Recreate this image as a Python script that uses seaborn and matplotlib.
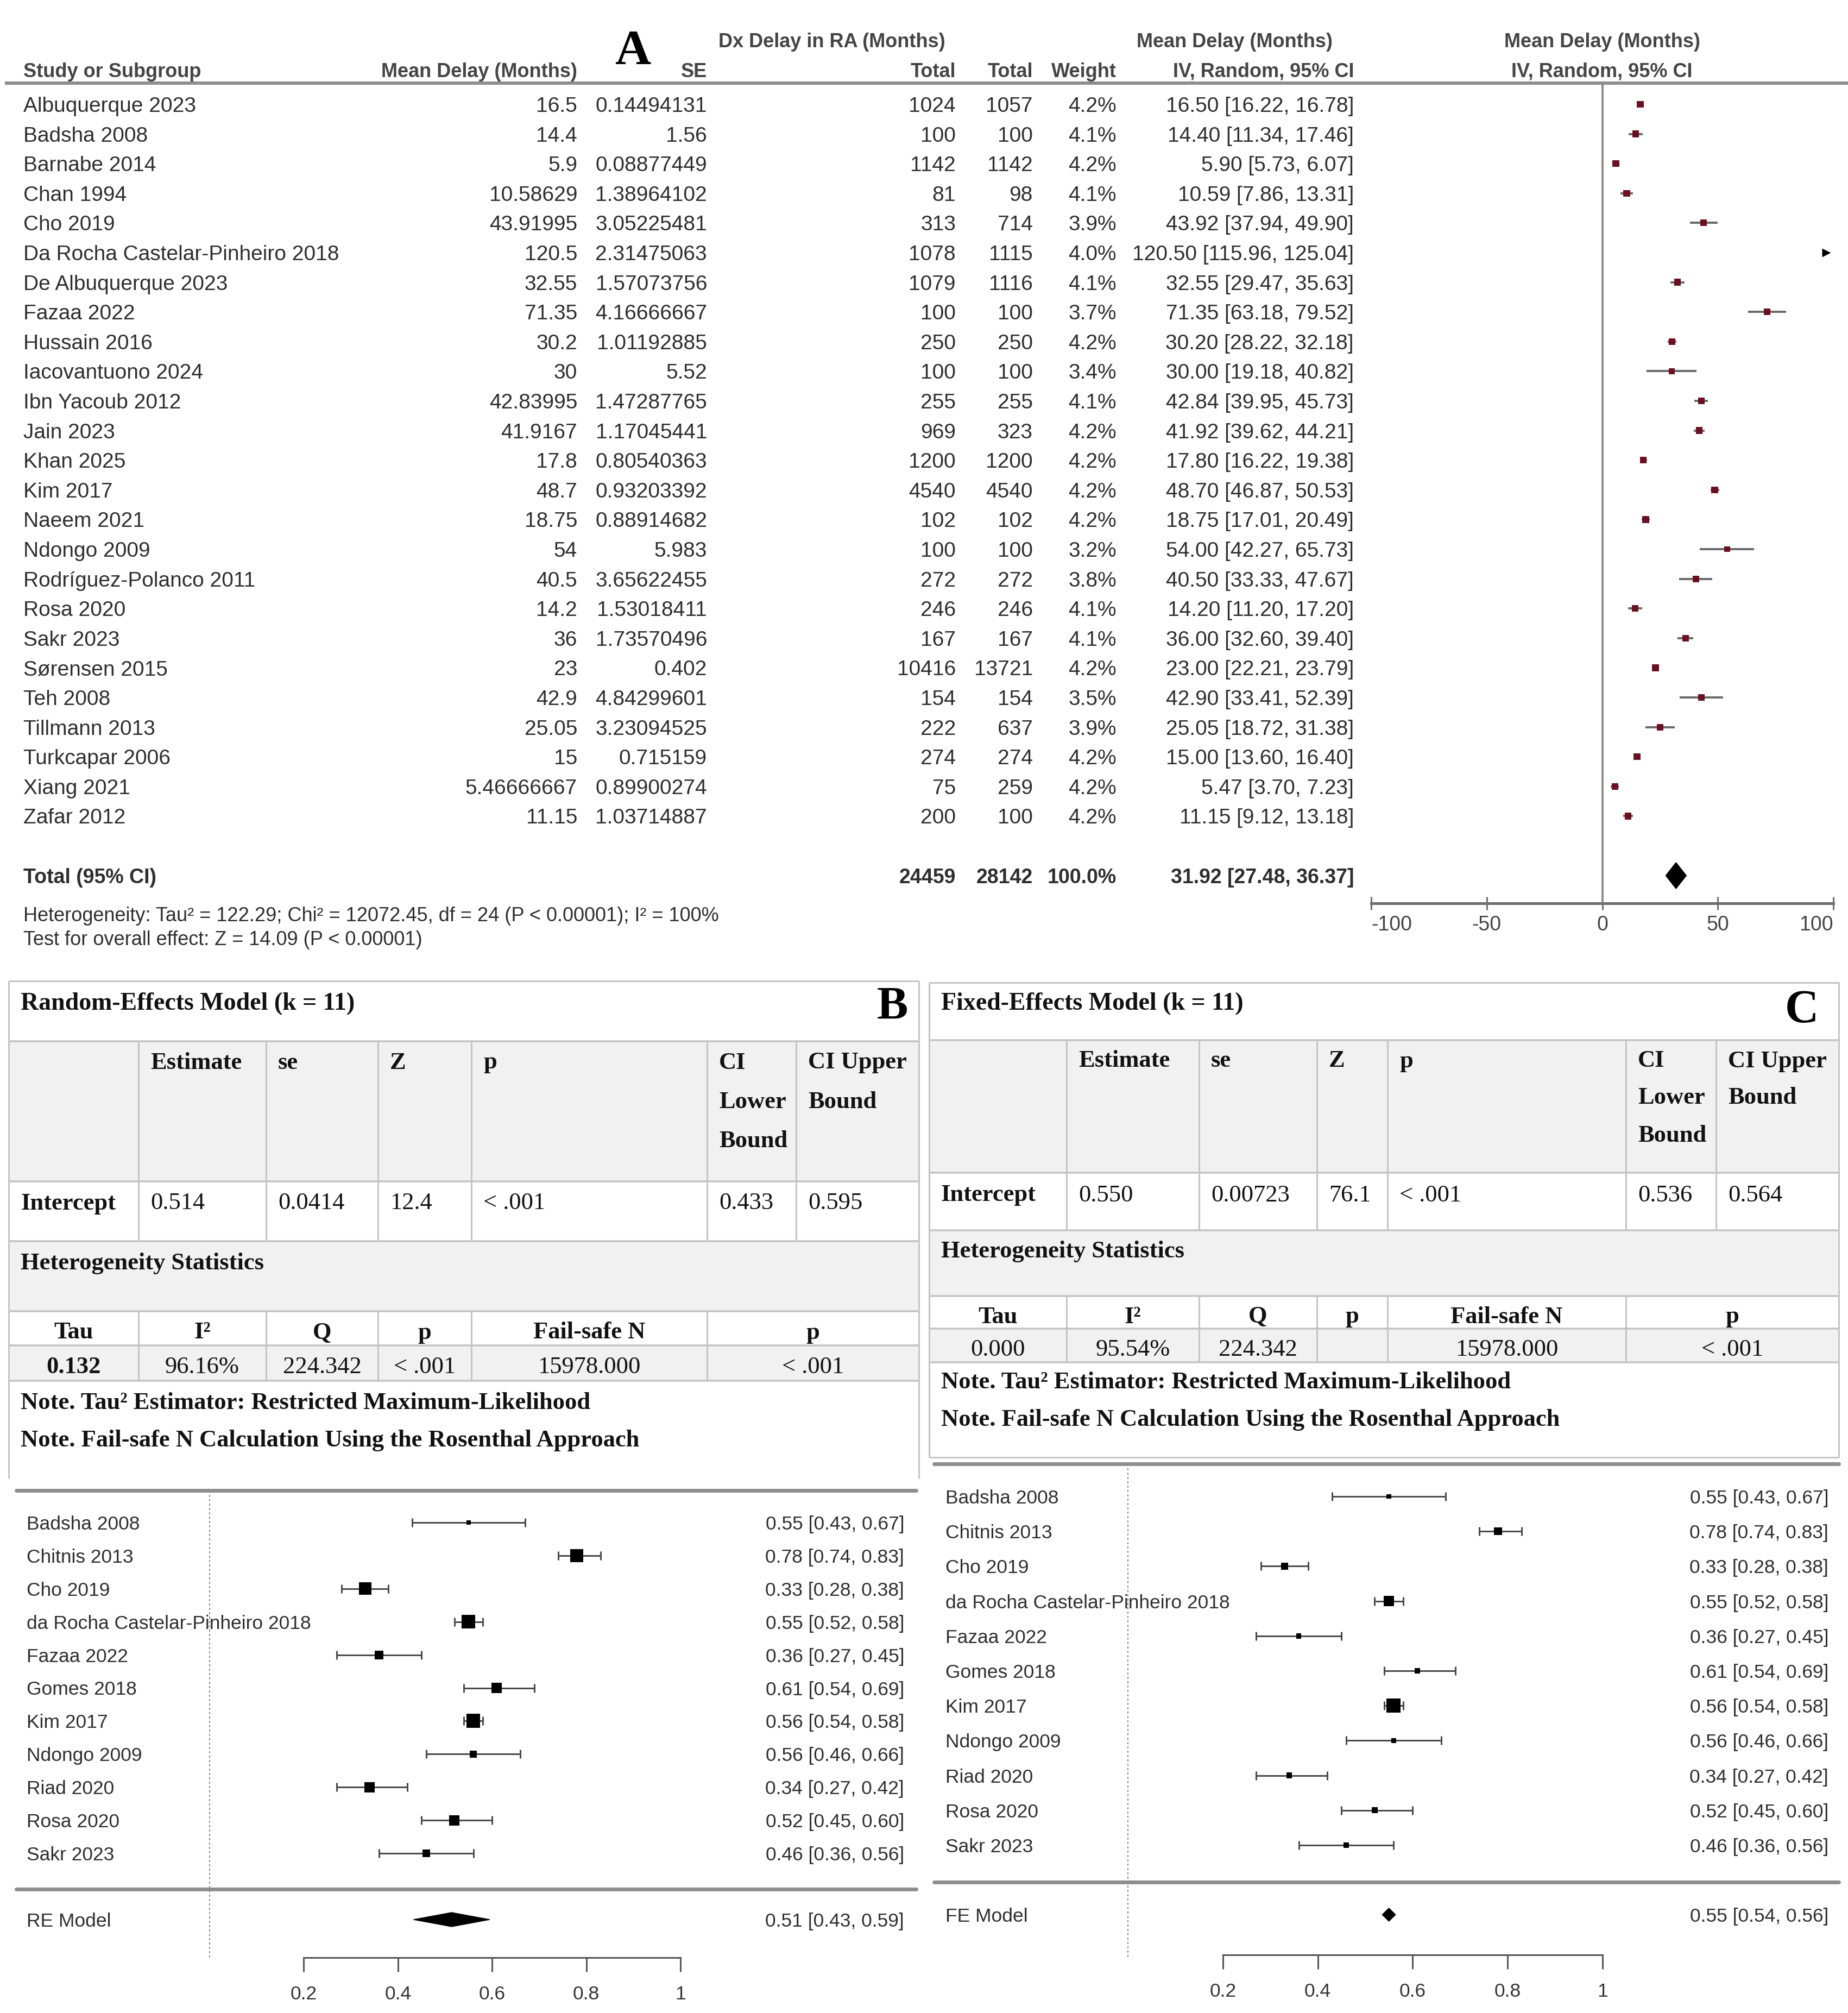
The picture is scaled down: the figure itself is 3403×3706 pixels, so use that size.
import numpy as np
import pandas as pd
import matplotlib
matplotlib.use("Agg")
import matplotlib.pyplot as plt
import matplotlib.transforms as mtrans
from matplotlib.patches import Rectangle, Polygon
import seaborn as sns

# ---------------------------------------------------------------- data: panel A
a_studies = ["Albuquerque 2023", "Badsha 2008", "Barnabe 2014", "Chan 1994", "Cho 2019",
             "Da Rocha Castelar-Pinheiro 2018", "De Albuquerque 2023", "Fazaa 2022",
             "Hussain 2016", "Iacovantuono 2024", "Ibn Yacoub 2012", "Jain 2023", "Khan 2025",
             "Kim 2017", "Naeem 2021", "Ndongo 2009", "Rodríguez-Polanco 2011", "Rosa 2020",
             "Sakr 2023", "Sørensen 2015", "Teh 2008", "Tillmann 2013", "Turkcapar 2006",
             "Xiang 2021", "Zafar 2012"]
a_mean = [16.5, 14.4, 5.9, 10.58629, 43.91995, 120.5, 32.55, 71.35, 30.2, 30, 42.83995,
          41.9167, 17.8, 48.7, 18.75, 54, 40.5, 14.2, 36, 23, 42.9, 25.05, 15, 5.46666667, 11.15]
a_se = [0.14494131, 1.56, 0.08877449, 1.38964102, 3.05225481, 2.31475063, 1.57073756,
        4.16666667, 1.01192885, 5.52, 1.47287765, 1.17045441, 0.80540363, 0.93203392,
        0.88914682, 5.983, 3.65622455, 1.53018411, 1.73570496, 0.402, 4.84299601,
        3.23094525, 0.715159, 0.89900274, 1.03714887]
a_total1 = [1024, 100, 1142, 81, 313, 1078, 1079, 100, 250, 100, 255, 969, 1200, 4540, 102,
            100, 272, 246, 167, 10416, 154, 222, 274, 75, 200]
a_total2 = [1057, 100, 1142, 98, 714, 1115, 1116, 100, 250, 100, 255, 323, 1200, 4540, 102,
            100, 272, 246, 167, 13721, 154, 637, 274, 259, 100]
a_weight = [4.2, 4.1, 4.2, 4.1, 3.9, 4.0, 4.1, 3.7, 4.2, 3.4, 4.1, 4.2, 4.2, 4.2, 4.2, 3.2,
            3.8, 4.1, 4.1, 4.2, 3.5, 3.9, 4.2, 4.2, 4.2]
a_md = [16.50, 14.40, 5.90, 10.59, 43.92, 120.50, 32.55, 71.35, 30.20, 30.00, 42.84, 41.92,
        17.80, 48.70, 18.75, 54.00, 40.50, 14.20, 36.00, 23.00, 42.90, 25.05, 15.00, 5.47, 11.15]
a_lo = [16.22, 11.34, 5.73, 7.86, 37.94, 115.96, 29.47, 63.18, 28.22, 19.18, 39.95, 39.62,
        16.22, 46.87, 17.01, 42.27, 33.33, 11.20, 32.60, 22.21, 33.41, 18.72, 13.60, 3.70, 9.12]
a_hi = [16.78, 17.46, 6.07, 13.31, 49.90, 125.04, 35.63, 79.52, 32.18, 40.82, 45.73, 44.21,
        19.38, 50.53, 20.49, 65.73, 47.67, 17.20, 39.40, 23.79, 52.39, 31.38, 16.40, 7.23, 13.18]
a_tot_n1, a_tot_n2, a_tot_w = 24459, 28142, 100.0
a_tot_md, a_tot_lo, a_tot_hi = 31.92, 27.48, 36.37
a_xticks = [-100, -50, 0, 50, 100]
a_het = "Heterogeneity: Tau² = 122.29; Chi² = 12072.45, df = 24 (P < 0.00001); I² = 100%"
a_test = "Test for overall effect: Z = 14.09 (P < 0.00001)"

# ---------------------------------------------------------------- data: panels B / C
bc_studies = ["Badsha 2008", "Chitnis 2013", "Cho 2019", "da Rocha Castelar-Pinheiro 2018",
              "Fazaa 2022", "Gomes 2018", "Kim 2017", "Ndongo 2009", "Riad 2020",
              "Rosa 2020", "Sakr 2023"]
bc_est = [0.55, 0.78, 0.33, 0.55, 0.36, 0.61, 0.56, 0.56, 0.34, 0.52, 0.46]
bc_lo = [0.43, 0.74, 0.28, 0.52, 0.27, 0.54, 0.54, 0.46, 0.27, 0.45, 0.36]
bc_hi = [0.67, 0.83, 0.38, 0.58, 0.45, 0.69, 0.58, 0.66, 0.42, 0.60, 0.56]
bc_xticks = [0.2, 0.4, 0.6, 0.8, 1.0]
bc_xticklabels = ["0.2", "0.4", "0.6", "0.8", "1"]

re_est, re_se, re_z, re_lo, re_hi, re_tau = 0.514, 0.0414, 12.4, 0.433, 0.595, 0.132
fe_est, fe_se, fe_z, fe_lo, fe_hi, fe_tau = 0.550, 0.00723, 76.1, 0.536, 0.564, 0.000

head_cols = [["Estimate"], ["se"], ["Z"], ["p"], ["CI", "Lower", "Bound"], ["CI Upper", "Bound"]]
re_row = ["0.514", "0.0414", "12.4", "< .001", "0.433", "0.595"]
fe_row = ["0.550", "0.00723", "76.1", "< .001", "0.536", "0.564"]
het_head = ["Tau", "I²", "Q", "p", "Fail-safe N", "p"]
re_het = ["0.132", "96.16%", "224.342", "< .001", "15978.000", "< .001"]
fe_het = ["0.000", "95.54%", "224.342", "", "15978.000", "< .001"]
notes = ["Note. Tau² Estimator: Restricted Maximum-Likelihood",
         "Note. Fail-safe N Calculation Using the Rosenthal Approach"]

# ---------------------------------------------------------------- figure setup
W, H, DPI = 3403, 3706, 100
PT = 72.0 / DPI          # points per pixel

sns.set_style("white")
plt.rcParams["font.family"] = ["Liberation Sans", "DejaVu Sans"]
SANS = ["Liberation Sans", "DejaVu Sans"]
SERIF = ["Liberation Serif", "DejaVu Serif"]

fig = plt.figure(figsize=(W / DPI, H / DPI), dpi=DPI)
fig.patch.set_facecolor("white")
ov = fig.add_axes([0, 0, 1, 1])
ov.set_xlim(0, W)
ov.set_ylim(H, 0)
ov.axis("off")


def px_axes(x0, y0, x1, y1):
    ax = fig.add_axes([x0 / W, 1 - y1 / H, (x1 - x0) / W, (y1 - y0) / H])
    ax.patch.set_alpha(0)
    return ax


# ================================================================ PANEL A
A_Y0, A_DY = 192.0, 54.6
A_TOP, A_AX = 153, 1663
A_X0, A_X1 = 2525, 3376
rowA = lambda px: (px - A_Y0) / A_DY

axA = px_axes(A_X0, A_TOP, A_X1, A_AX)
axA.set_xlim(-100, 100)
axA.set_ylim(rowA(A_AX), rowA(A_TOP))
tA = mtrans.blended_transform_factory(ov.transData, axA.transData)

TXT = "#2e2e2e"
HDR = "#454545"
FS_A = 28
FS_AH = 26

# header line across the whole width
ov.plot([9, W], [A_TOP, A_TOP], color="#8e8e8e", lw=6 * PT, solid_capstyle="butt", zorder=2)

# header labels
yh1, yh2 = rowA(73), rowA(128)
hk = dict(transform=tA, fontsize=FS_AH, color=HDR, fontweight="bold", va="center_baseline")
ov.text(1532, yh1, "Dx Delay in RA (Months)", ha="center", **hk)
ov.text(2273, yh1, "Mean Delay (Months)", ha="center", **hk)
ov.text(2950, yh1, "Mean Delay (Months)", ha="center", **hk)
ov.text(43, yh2, "Study or Subgroup", ha="left", **hk)
ov.text(1063, yh2, "Mean Delay (Months)", ha="right", **hk)
ov.text(1302, yh2, "SE", ha="right", **hk)
ov.text(1760, yh2, "Total", ha="right", **hk)
ov.text(1902, yh2, "Total", ha="right", **hk)
ov.text(2056, yh2, "Weight", ha="right", **hk)
ov.text(2493, yh2, "IV, Random, 95% CI", ha="right", **hk)
ov.text(2950, yh2, "IV, Random, 95% CI", ha="center", **hk)

ov.text(1165, 87, "A", fontsize=66, fontweight="bold", family=SERIF, color="black",
        ha="center", va="center_baseline")

# study rows
dk = dict(transform=tA, fontsize=FS_A, color=TXT, va="center_baseline")
for i in range(len(a_studies)):
    ov.text(43, i, a_studies[i], ha="left", **dk)
    ov.text(1063, i, f"{a_mean[i]:.10g}", ha="right", **dk)
    ov.text(1302, i, f"{a_se[i]:.10g}", ha="right", **dk)
    ov.text(1760, i, f"{a_total1[i]}", ha="right", **dk)
    ov.text(1902, i, f"{a_total2[i]}", ha="right", **dk)
    ov.text(2056, i, f"{a_weight[i]:.1f}%", ha="right", **dk)
    ov.text(2493, i, f"{a_md[i]:.2f} [{a_lo[i]:.2f}, {a_hi[i]:.2f}]", ha="right", **dk)

# total row + footnotes
y_tot = rowA(1612)
bk = dict(dk, fontweight="bold", fontsize=FS_A - 1)
ov.text(43, y_tot, "Total (95% CI)", ha="left", **bk)
ov.text(1760, y_tot, f"{a_tot_n1}", ha="right", **bk)
ov.text(1902, y_tot, f"{a_tot_n2}", ha="right", **bk)
ov.text(2056, y_tot, f"{a_tot_w:.1f}%", ha="right", **bk)
ov.text(2493, y_tot, f"{a_tot_md:.2f} [{a_tot_lo:.2f}, {a_tot_hi:.2f}]", ha="right", **bk)
fk = dict(dk, fontsize=26)
ov.text(43, rowA(1683), a_het, ha="left", **fk)
ov.text(43, rowA(1727), a_test, ha="left", **fk)

# forest marks
dfA = pd.DataFrame({"md": a_md, "lo": a_lo, "hi": a_hi, "w": a_weight,
                    "row": np.arange(len(a_md), dtype=float)})
XMAX = 100
inside = dfA[dfA["md"] <= XMAX]
outside = dfA[dfA["lo"] > XMAX]
axA.axvline(0, color="#8e8e8e", lw=4 * PT, zorder=1)
axA.hlines(inside["row"], inside["lo"].clip(-XMAX, XMAX), inside["hi"].clip(-XMAX, XMAX),
           color="#6a6a6a", lw=4 * PT, zorder=2)
side_px = 12.5 * np.sqrt(inside["w"] / 4.2)
sns.scatterplot(data=inside, x="md", y="row", marker="s", s=(side_px * PT) ** 2,
                color="#6a1020", linewidth=0, legend=False, ax=axA, zorder=3)
sns.scatterplot(x=np.full(len(outside), XMAX - 3.0), y=outside["row"], marker=">",
                s=(16 * PT) ** 2, color="black", linewidth=0, legend=False, ax=axA, zorder=3)
hd = 24 / A_DY
axA.add_patch(Polygon([(a_tot_lo, y_tot), (a_tot_md, y_tot - hd), (a_tot_hi, y_tot),
                       (a_tot_md, y_tot + hd)], closed=True, facecolor="black",
                      edgecolor="black", zorder=3))
for s in ["left", "top", "right"]:
    axA.spines[s].set_visible(False)
axA.spines["bottom"].set_color("#6e6e6e")
axA.spines["bottom"].set_linewidth(5 * PT)
axA.set_yticks([])
axA.set_xticks(a_xticks)
axA.set_xticklabels([f"{t}" for t in a_xticks])
axA.tick_params(axis="x", bottom=True, direction="inout", length=24 * PT, width=3 * PT,
                color="#6e6e6e", labelsize=27, labelcolor="#444444", pad=7)
labs = axA.get_xticklabels()
labs[0].set_ha("left")
labs[-1].set_ha("right")
axA.set_xlabel("")
axA.set_ylabel("")

# ================================================================ TABLES B / C
GRID = "#c4c4c4"
FILL = "#f1f1f1"
FS_T = 32


def hl(x0, x1, y, lw=3.0):
    ov.plot([x0, x1], [y, y], color=GRID, lw=lw * PT, solid_capstyle="butt", zorder=2)


def vl(x, y0, y1, lw=3.0):
    ov.plot([x, x], [y0, y1], color=GRID, lw=lw * PT, solid_capstyle="butt", zorder=2)


def fillrect(x0, y0, x1, y1):
    ov.add_patch(Rectangle((x0, y0), x1 - x0, y1 - y0, facecolor=FILL, edgecolor="none", zorder=1))


def draw_table(g, title, row_vals, het_vals, tau_bold):
    L, R = g["L"], g["R"]
    b = g["bounds"]
    cols = g["cols"]
    fillrect(L, b[0], R, b[1])
    fillrect(L, b[2], R, b[3])
    fillrect(L, b[4], R, b[5])
    # outer frame
    hl(L, R, g["top"])
    vl(L, g["top"], g["side_bot"])
    vl(R, g["top"], g["side_bot"])
    if g["bot"] is not None:
        hl(L, R, g["bot"])
    for yb in b:
        hl(L, R, yb, lw=3.5)
    for c in cols:
        vl(c, b[0], b[2])
    for c in cols[:5]:
        vl(c, b[3], b[5])
    tk = dict(family=SERIF, fontsize=FS_T, color="#111111", va="center_baseline")
    ov.text(L + 22, g["title_y"], title, ha="left", fontweight="bold", **dict(tk, fontsize=33))
    let, lx, ly = g["letter"]
    ov.text(lx, ly, let, ha="center", fontweight="bold", **dict(tk, fontsize=62, color="black"))
    for c, lines in zip(cols, head_cols):
        for k, line in enumerate(lines):
            ov.text(c + 22, g["head_y"][k], line, ha="left", fontweight="bold", **tk)
    ov.text(L + 22, g["int_y"], "Intercept", ha="left", fontweight="bold", **tk)
    for c, v in zip(cols, row_vals):
        ov.text(c + 22, g["int_y"], v, ha="left", **tk)
    ov.text(L + 22, g["het_y"], "Heterogeneity Statistics", ha="left", fontweight="bold", **tk)
    edges = [L] + cols[:5] + [R]
    for j in range(6):
        cx = 0.5 * (edges[j] + edges[j + 1])
        ov.text(cx, g["tau_y"], het_head[j], ha="center", fontweight="bold", **tk)
        wgt = "bold" if (j == 0 and tau_bold) else "normal"
        ov.text(cx, g["val_y"], het_vals[j], ha="center", fontweight=wgt, **tk)
    for k, n in enumerate(notes):
        ov.text(L + 22, g["note_y"][k], n, ha="left", fontweight="bold", **tk)


tbl_B = dict(L=16, R=1692, top=1806, bot=None, side_bot=2722,
             bounds=[1917, 2175, 2285, 2414, 2477, 2542],
             cols=[255, 490, 696, 868, 1302, 1466], head_y=[1952, 2024, 2096],
             title_y=1843, int_y=2211, het_y=2322, tau_y=2449, val_y=2512,
             note_y=[2578, 2647], letter=("B", 1643, 1846))
tbl_C = dict(L=1711, R=3386, top=1809, bot=2683, side_bot=2683,
             bounds=[1915, 2159, 2265, 2386, 2446, 2508],
             cols=[1964, 2208, 2425, 2555, 2994, 3160], head_y=[1949, 2017, 2086],
             title_y=1843, int_y=2196, het_y=2300, tau_y=2420, val_y=2480,
             note_y=[2541, 2610], letter=("C", 3318, 1852))

draw_table(tbl_B, "Random-Effects Model (k = 11)", re_row, re_het, True)
draw_table(tbl_C, "Fixed-Effects Model (k = 11)", fe_row, fe_het, False)

# ================================================================ FORESTS B / C
est = np.array(bc_est)
lo = np.array(bc_lo)
hi = np.array(bc_hi)
se_i = (hi - lo) / (2 * 1.96)


def psize(w):
    p = np.sqrt(w)
    return 0.5 + (p - p.min()) / (p.max() - p.min())


def forest_bc(g, weights, m_label, m_est, m_lo, m_hi, m_h):
    x0, x1, top, axy = g["x0"], g["x1"], g["top"], g["axis"]
    z, u, r0, dr = g["zero"], g["unit"], g["row0"], g["drow"]
    ax = px_axes(x0, top, x1, axy)
    ax.set_xlim((x0 - z) / u, (x1 - z) / u)
    rowp = lambda px: (px - r0) / dr
    ax.set_ylim(rowp(axy), rowp(top))
    rows = np.arange(len(bc_studies), dtype=float)
    ax.axhline(rowp(top), color="#8e8e8e", lw=7 * PT, clip_on=False, zorder=2)
    ax.axhline(rowp(g["line_bot"]), color="#8e8e8e", lw=7 * PT, clip_on=False, zorder=2)
    ax.vlines(0, rowp(top), rowp(g["dot_bot"]), colors="#8a8a8a", linestyles=(0, (2, 2)),
              lw=2 * PT, clip_on=False, zorder=1)
    ax.hlines(rows, lo, hi, color="#4a4a4a", lw=3 * PT, zorder=2)
    cap = 8 / dr
    ax.vlines(lo, rows - cap, rows + cap, color="#4a4a4a", lw=3 * PT, zorder=2)
    ax.vlines(hi, rows - cap, rows + cap, color="#4a4a4a", lw=3 * PT, zorder=2)
    sides = 17.3 * psize(weights)
    sns.scatterplot(x=est, y=rows, marker="s", s=(sides * PT) ** 2, color="black",
                    linewidth=0, legend=False, ax=ax, zorder=3)
    ym = rowp(g["model"])
    h = m_h / dr
    ax.add_patch(Polygon([(m_lo, ym), (m_est, ym - h), (m_hi, ym), (m_est, ym + h)],
                         closed=True, facecolor="black", edgecolor="black", lw=1, zorder=3))
    lx = (g["lab"] - z) / u
    rx = (g["right"] - z) / u
    tk = dict(fontsize=25.5, color="#2e2e2e", va="center_baseline", family=SANS)
    for i, name in enumerate(bc_studies):
        ax.text(lx, i, name, ha="left", zorder=4, **tk)
        ax.text(rx, i, f"{est[i]:.2f} [{lo[i]:.2f}, {hi[i]:.2f}]", ha="right", **tk)
    ax.text(lx, ym, m_label, ha="left", **tk)
    ax.text(rx, ym, f"{m_est:.2f} [{m_lo:.2f}, {m_hi:.2f}]", ha="right", **tk)
    for s in ["left", "top", "right"]:
        ax.spines[s].set_visible(False)
    ax.spines["bottom"].set_bounds(bc_xticks[0], bc_xticks[-1])
    ax.spines["bottom"].set_color("#555555")
    ax.spines["bottom"].set_linewidth(3 * PT)
    ax.set_yticks([])
    ax.set_xticks(bc_xticks)
    ax.set_xticklabels(bc_xticklabels)
    ax.tick_params(axis="x", bottom=True, direction="out", length=26 * PT, width=3 * PT,
                   color="#555555", labelsize=25.5, labelcolor="#333333", pad=18)
    ax.set_xlabel("")
    ax.set_ylabel("")
    return ax


geo_B = dict(x0=30, x1=1687, top=2744, axis=3604, zero=386, unit=867.0, row0=2803,
             drow=60.9, lab=49, right=1665, line_bot=3478, model=3534, dot_bot=3608)
geo_C = dict(x0=1720, x1=3386, top=2695, axis=3599, zero=2077, unit=873.75, row0=2755,
             drow=64.2, lab=1741, right=3367, line_bot=3465, model=3525, dot_bot=3603)

w_re = 1.0 / (se_i ** 2 + re_tau ** 2)
w_fe = 1.0 / se_i ** 2
forest_bc(geo_B, w_re, "RE Model", re_est, re_lo, re_hi, 13)
forest_bc(geo_C, w_fe, "FE Model", fe_est, fe_lo, fe_hi, 12)

fig.savefig("out.png", dpi=DPI, facecolor="white")
